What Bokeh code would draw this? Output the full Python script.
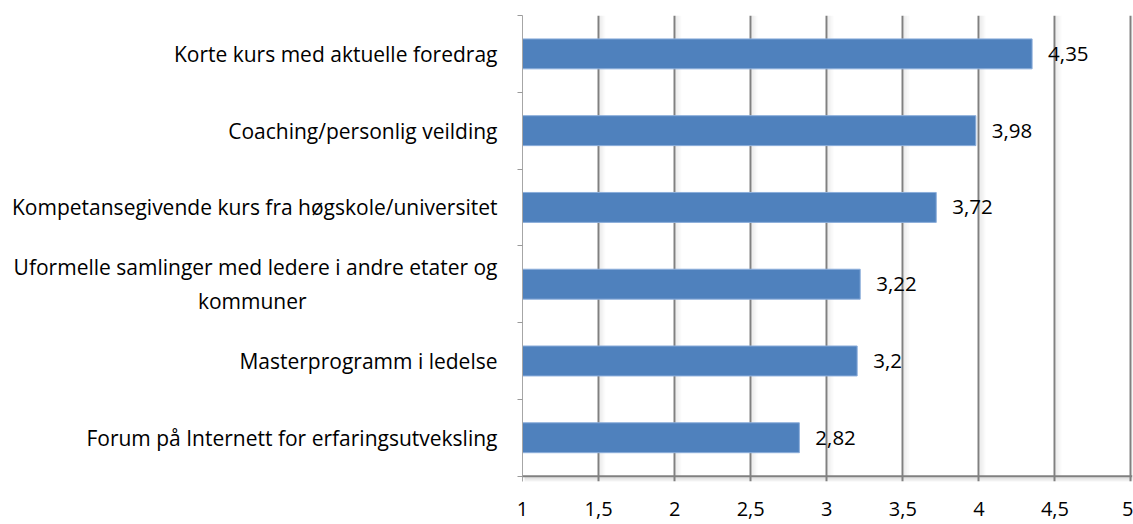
from bokeh.plotting import figure
from bokeh.models import Range1d, FixedTicker, Span, ColumnDataSource
from bokeh.core.properties import value
from bokeh.embed import file_html
from bokeh.resources import INLINE

categories = [
    "Korte kurs med aktuelle foredrag",
    "Coaching/personlig veilding",
    "Kompetansegivende kurs fra høgskole/universitet",
    "Uformelle samlinger med ledere i andre etater og\nkommuner",
    "Masterprogramm i ledelse",
    "Forum på Internett for erfaringsutveksling",
]
values = [4.35, 3.98, 3.72, 3.22, 3.2, 2.82]
value_labels = ["4,35", "3,98", "3,72", "3,22", "3,2", "2,82"]
x_ticks = [1, 1.5, 2, 2.5, 3, 3.5, 4, 4.5, 5]
x_tick_labels = ["1", "1,5", "2", "2,5", "3", "3,5", "4", "4,5", "5"]

FONT = "Open Sans"
n = len(categories)
ys = [n - i - 0.5 for i in range(n)]

x_lo, x_hi = x_ticks[0], x_ticks[-1] + 0.01
y_lo, y_hi = -0.07, float(n)
frame_w, frame_h = 610, 466
px_x = frame_w / (x_hi - x_lo)
px_y = frame_h / (y_hi - y_lo)

p = figure(width=1133, height=524, output_backend="svg", toolbar_location=None,
           x_range=Range1d(x_lo, x_hi), y_range=Range1d(y_lo, y_hi),
           min_border_left=522, min_border_right=1, min_border_top=15, min_border_bottom=43)
p.outline_line_color = None
p.background_fill_color = "white"
p.border_fill_color = "white"

# grid lines
p.xgrid.ticker = FixedTicker(ticks=x_ticks[1:])
p.xgrid.grid_line_color = "#808080"
p.xgrid.grid_line_width = 2
p.ygrid.grid_line_color = None

# gridline shadows
for k in range(1, 7):
    a = 0.10 * (1 - (k - 1) / 6)
    p.segment(x0=[t + (k + 0.5) / px_x for t in x_ticks[1:]], y0=0,
              x1=[t + (k + 0.5) / px_x for t in x_ticks[1:]], y1=y_hi,
              line_color="#707070", line_alpha=a, line_width=1.2, level="underlay")
# bottom axis shadow
for k in range(1, 6):
    a = 0.16 * (1 - (k - 1) / 5)
    p.segment(x0=x_lo + 2 / px_x, y0=-(k + 0.5) / px_y, x1=x_ticks[-1] + 4 / px_x, y1=-(k + 0.5) / px_y,
              line_color="#606060", line_alpha=a, line_width=1.2, level="underlay")

src = ColumnDataSource(dict(y=ys, v=values, lab=value_labels))
p.hbar(y="y", left=x_ticks[0], right="v", height=0.39, source=src,
       fill_color="#4F81BD", line_color="#8CAEDB", line_width=1)
p.add_layout(Span(location=0, dimension="width", line_color="#808080", line_width=2))

p.text(x="v", y="y", text="lab", source=src, x_offset=16, text_baseline="middle",
       text_align="left", text_font=value(FONT), text_font_size="20.5px", text_color="black")


def centre_lines(label):
    # axis labels are right-aligned per line; pad the last line so it sits centred
    lines = label.split("\n")
    if len(lines) < 2:
        return label
    pad = "\u00a0" * 35
    return "\n".join(lines[:-1] + [lines[-1] + pad])


# y axis
p.yaxis.ticker = FixedTicker(ticks=ys, minor_ticks=list(range(n + 1)))
p.yaxis.major_label_overrides = {y: centre_lines(c) for y, c in zip(ys, categories)}
p.yaxis.major_tick_out = 0
p.yaxis.major_tick_in = 0
p.yaxis.minor_tick_out = 5
p.yaxis.minor_tick_in = 0
p.yaxis.minor_tick_line_color = "#9a9a9a"
p.yaxis.axis_line_color = "#a6a6a6"
p.yaxis.axis_line_width = 1
p.yaxis.major_label_standoff = 20
p.yaxis.major_label_text_font = FONT
p.yaxis.major_label_text_font_size = "21px"
p.yaxis.major_label_text_color = "black"

# x axis
p.xaxis.ticker = FixedTicker(ticks=x_ticks, minor_ticks=[])
p.xaxis.major_label_overrides = {t: l for t, l in zip(x_ticks, x_tick_labels)}
p.xaxis.axis_line_color = None
p.xaxis.major_tick_line_color = None
p.xaxis.major_tick_out = 0
p.xaxis.major_tick_in = 0
p.xaxis.minor_tick_line_color = None
p.xaxis.major_label_standoff = 20
p.xaxis.major_label_text_font = FONT
p.xaxis.major_label_text_font_size = "20px"
p.xaxis.major_label_text_color = "black"

open("out.html", "w").write(file_html(p, INLINE))
